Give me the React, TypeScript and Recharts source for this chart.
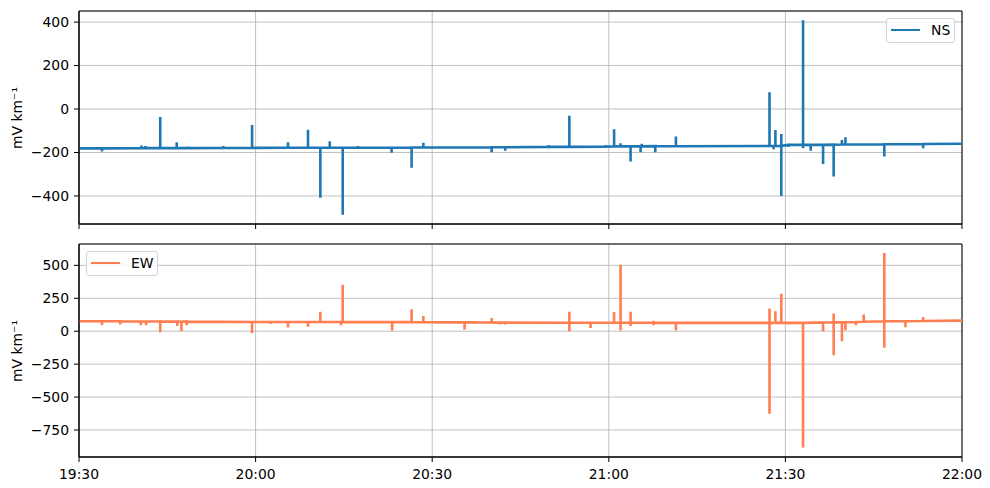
import React from 'react';
import {
  LineChart, Line, XAxis, YAxis, CartesianGrid, ReferenceArea
} from 'recharts';

// minutes after 19:30
const timeTicks = [0, 30, 60, 90, 120, 150];
const timeLabels = ['19:30', '20:00', '20:30', '21:00', '21:30', '22:00'];

const nsTicks = [-400, -200, 0, 200, 400];
const ewTicks = [-750, -500, -250, 0, 250, 500];

// [minute, baseline, spike value, optional second spike value]
const nsSpikes: number[][] = [
  [0, -181, -181],
  [3.9, -181, -195],
  [10.6, -180, -168],
  [11.3, -180, -170],
  [13.8, -180, -37],
  [16.6, -180, -153],
  [18.5, -180, -172],
  [24.5, -179, -170],
  [29.4, -179, -73],
  [35.5, -178, -153],
  [38.9, -178, -95],
  [41.0, -178, -408],
  [42.6, -178, -148],
  [44.8, -178, -487],
  [47.4, -178, -170],
  [53.1, -178, -201],
  [56.5, -177, -270],
  [58.5, -177, -155],
  [70.1, -176, -199],
  [72.4, -176, -192],
  [79.8, -174, -165],
  [83.3, -174, -31],
  [89.5, -173, -165],
  [90.9, -172, -93],
  [92.0, -172, -158],
  [93.7, -172, -242],
  [95.4, -172, -199],
  [95.6, -172, -160],
  [97.9, -171, -199],
  [101.4, -171, -126],
  [117.3, -170, 77],
  [118.0, -170, -185],
  [118.3, -170, -97],
  [119.3, -170, -115, -400],
  [120.5, -165, -175],
  [123.0, -165, 409, -181],
  [124.3, -165, -192],
  [126.4, -165, -253],
  [128.2, -164, -311],
  [129.6, -163, -143],
  [130.2, -163, -130],
  [136.8, -162, -219],
  [143.4, -161, -181],
  [150, -160, -160],
];

const ewSpikes: number[][] = [
  [0, 75, 75],
  [3.9, 75, 48],
  [7.0, 75, 50],
  [10.5, 74, 45],
  [11.4, 74, 45],
  [13.8, 74, 85, -8],
  [16.7, 73, 40],
  [17.4, 73, 2],
  [18.3, 73, 45],
  [29.4, 70, -16],
  [32.6, 70, 55],
  [35.5, 70, 28],
  [38.9, 70, 33],
  [41.0, 70, 147],
  [44.5, 70, 45],
  [44.8, 70, 353],
  [53.2, 69, 5],
  [56.5, 69, 166],
  [58.5, 68, 116],
  [65.5, 67, 12],
  [67.5, 67, 78],
  [70.1, 66, 100],
  [71.5, 65, 50],
  [72.4, 65, 50],
  [83.3, 64, 147, -1],
  [86.9, 64, 25],
  [90.9, 64, 145],
  [92.0, 64, 505, 5],
  [93.7, 64, 148, 40],
  [97.6, 64, 80, 45],
  [101.4, 63, 5],
  [117.3, 63, 172, -626],
  [118.3, 63, 152],
  [119.3, 63, 284],
  [120.6, 63, 50],
  [123.0, 63, -882],
  [124.3, 65, 75],
  [126.4, 66, -1],
  [128.2, 67, 134, -183],
  [129.6, 67, -77],
  [130.2, 68, 7],
  [132.0, 70, 45],
  [133.3, 72, 127],
  [136.8, 75, 594, -125],
  [140.4, 76, 30],
  [143.4, 78, 108],
  [150, 80, 80],
];

const toSeries = (spikes: number[][]) => {
  const pts: { t: number; v: number }[] = [];
  spikes.forEach(([t, base, a, b]) => {
    pts.push({ t, v: base });
    pts.push({ t, v: a });
    if (b !== undefined) pts.push({ t, v: b });
    pts.push({ t, v: base });
  });
  return pts;
};

const nsData = toSeries(nsSpikes);
const ewData = toSeries(ewSpikes);

const FONT = 'DejaVu Sans, sans-serif';
const FS = 13.9;
const minus = (v: number) => String(v).replace('-', '\u2212');
const timeFmt = (v: number) => timeLabels[timeTicks.indexOf(v)] ?? '';

const LegendBox = ({ color, name, left, top, width }: any) => (
  <div style={{
    position: 'absolute', left, top, width, height: 25, boxSizing: 'border-box',
    border: '1px solid #d5d5d5', borderRadius: 3, background: 'rgba(255,255,255,0.8)',
    fontFamily: FONT, fontSize: FS,
  }}>
    <div style={{ position: 'absolute', left: 4, top: 10, width: 29, height: 2, background: color }} />
    <div style={{ position: 'absolute', left: 44, top: 3, lineHeight: '16px', color: '#000' }}>{name}</div>
  </div>
);

const YLabel = ({ top }: { top: number }) => (
  <div style={{
    position: 'absolute', left: 17, top, transform: 'translate(-50%, -50%) rotate(-90deg)',
    fontFamily: FONT, fontSize: FS, whiteSpace: 'nowrap', color: '#000',
  }}>mV km⁻¹</div>
);

const Panel = ({ data, color, name, domain, ticks, showLabels, height }: any) => (
  <LineChart width={990} height={height} data={data} margin={{ top: 11, right: 28, bottom: 0, left: 0 }}>
    <CartesianGrid stroke="#b0b0b0" strokeWidth={0.8} />
    <XAxis
      dataKey="t" type="number" domain={[0, 150]} ticks={timeTicks} allowDataOverflow
      height={showLabels ? 31 : 16} stroke="#000" tickSize={5} tickMargin={7}
      tick={{ fill: '#000', fontSize: FS, fontFamily: FONT }}
      tickFormatter={showLabels ? timeFmt : () => ''}
    />
    <YAxis
      type="number" domain={domain} ticks={ticks} allowDataOverflow width={79}
      stroke="#000" tickSize={5} tickMargin={5}
      tick={{ fill: '#000', fontSize: FS, fontFamily: FONT }}
      tickFormatter={minus}
    />
    <Line
      dataKey="v" type="linear" stroke={color} strokeWidth={2.6} dot={false}
      isAnimationActive={false} name={name}
    />
    <ReferenceArea
      x1={0} x2={150} y1={domain[0]} y2={domain[1]}
      fill="none" fillOpacity={0} stroke="#000" strokeWidth={1} strokeOpacity={1} ifOverflow="visible"
    />
  </LineChart>
);

export default function App() {
  return (
    <div style={{ position: 'absolute', left: 0, top: 0, width: 990, height: 488, background: '#fff' }}>
      <div style={{ position: 'absolute', left: 0, top: 0 }}>
        <Panel data={nsData} color="#1f77b4" name="NS" domain={[-529, 451]} ticks={nsTicks}
          showLabels={false} height={240} />
      </div>
      <div style={{ position: 'absolute', left: 0, top: 233 }}>
        <Panel data={ewData} color="#ff7f50" name="EW" domain={[-955, 662]} ticks={ewTicks}
          showLabels height={255} />
      </div>
      <LegendBox color="#1f77b4" name="NS" left={886} top={18} width={69} />
      <LegendBox color="#ff7f50" name="EW" left={86} top={251} width={72} />
      <YLabel top={117.5} />
      <YLabel top={350.5} />
    </div>
  );
}
